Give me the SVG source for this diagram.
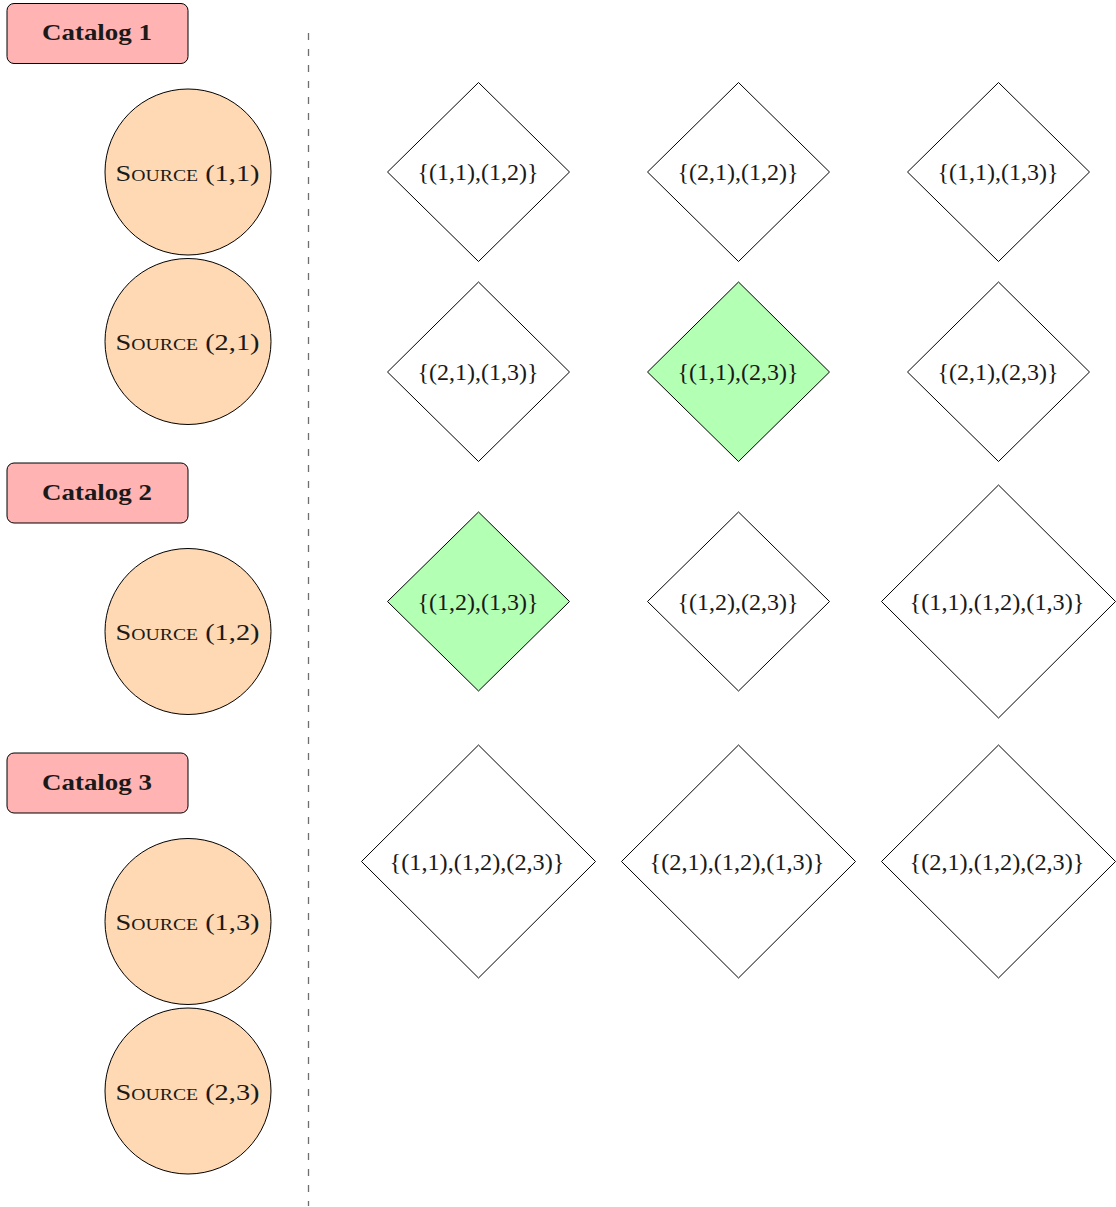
<svg xmlns="http://www.w3.org/2000/svg" width="1116" height="1207" viewBox="0 0 1116 1207">
  <style>
    text { font-family: "Liberation Serif", "Times New Roman", serif; font-size: 23px; fill: #1a1a1a; text-anchor: middle; }
    .catalog rect { fill: #ffb3b3; stroke: #000; stroke-width: 1; }
    .catalog text { font-weight: bold; }
    .source circle { fill: #ffd9b3; stroke: #000; stroke-width: 1; }
    .source text { font-variant: small-caps; }
    .set polygon { fill: #fff; stroke: #000; stroke-width: 1; }
    .set.hit polygon { fill: #b3ffb3; }
    .divider { stroke: #6e6e6e; stroke-width: 1.3; stroke-dasharray: 7 9; fill: none; }
  </style>

  <rect width="1116" height="1207" fill="#fff"/>

  <!-- separator between sources and candidate sets -->
  <g id="connectors">
    <line class="divider" x1="308.5" y1="33" x2="308.5" y2="1206"/>
  </g>

  <!-- catalogs -->
  <g id="catalog1" class="catalog">
    <rect x="7" y="3.5" width="181" height="60" rx="7"/>
    <text x="97" y="40" textLength="110" lengthAdjust="spacingAndGlyphs">Catalog 1</text>
  </g>
  <g id="catalog2" class="catalog">
    <rect x="7" y="463" width="181" height="60" rx="7"/>
    <text x="97" y="499.5" textLength="110" lengthAdjust="spacingAndGlyphs">Catalog 2</text>
  </g>
  <g id="catalog3" class="catalog">
    <rect x="7" y="753" width="181" height="60" rx="7"/>
    <text x="97" y="789.5" textLength="110" lengthAdjust="spacingAndGlyphs">Catalog 3</text>
  </g>

  <!-- sources -->
  <g id="source11" class="source">
    <circle cx="188" cy="172" r="83"/>
    <text x="187.5" y="180.5" textLength="144" lengthAdjust="spacingAndGlyphs">Source (1,1)</text>
  </g>
  <g id="source21" class="source">
    <circle cx="188" cy="341.5" r="83"/>
    <text x="187.5" y="350" textLength="144" lengthAdjust="spacingAndGlyphs">Source (2,1)</text>
  </g>
  <g id="source12" class="source">
    <circle cx="188" cy="631.5" r="83"/>
    <text x="187.5" y="640" textLength="144" lengthAdjust="spacingAndGlyphs">Source (1,2)</text>
  </g>
  <g id="source13" class="source">
    <circle cx="188" cy="921.5" r="83"/>
    <text x="187.5" y="930" textLength="144" lengthAdjust="spacingAndGlyphs">Source (1,3)</text>
  </g>
  <g id="source23" class="source">
    <circle cx="188" cy="1091" r="83"/>
    <text x="187.5" y="1099.5" textLength="144" lengthAdjust="spacingAndGlyphs">Source (2,3)</text>
  </g>

  <!-- candidate sets, row 1 -->
  <g id="set-11-12" class="set">
    <polygon points="478.5,82.5 569.5,172 478.5,261.5 387.5,172"/>
    <text x="478" y="180" textLength="121" lengthAdjust="spacingAndGlyphs">{(1,1),(1,2)}</text>
  </g>
  <g id="set-21-12" class="set">
    <polygon points="738.5,82.5 829.5,172 738.5,261.5 647.5,172"/>
    <text x="738" y="180" textLength="121" lengthAdjust="spacingAndGlyphs">{(2,1),(1,2)}</text>
  </g>
  <g id="set-11-13" class="set">
    <polygon points="998.5,82.5 1089.5,172 998.5,261.5 907.5,172"/>
    <text x="998" y="180" textLength="121" lengthAdjust="spacingAndGlyphs">{(1,1),(1,3)}</text>
  </g>

  <!-- row 2 -->
  <g id="set-21-13" class="set">
    <polygon points="478.5,282 569.5,372 478.5,461.5 387.5,372"/>
    <text x="478" y="380" textLength="121" lengthAdjust="spacingAndGlyphs">{(2,1),(1,3)}</text>
  </g>
  <g id="set-11-23" class="set hit">
    <polygon points="738.5,282 829.5,372 738.5,461.5 647.5,372"/>
    <text x="738" y="380" textLength="121" lengthAdjust="spacingAndGlyphs">{(1,1),(2,3)}</text>
  </g>
  <g id="set-21-23" class="set">
    <polygon points="998.5,282 1089.5,372 998.5,461.5 907.5,372"/>
    <text x="998" y="380" textLength="121" lengthAdjust="spacingAndGlyphs">{(2,1),(2,3)}</text>
  </g>

  <!-- row 3 -->
  <g id="set-12-13" class="set hit">
    <polygon points="478.5,512 569.5,601.5 478.5,691 387.5,601.5"/>
    <text x="478" y="609.5" textLength="121" lengthAdjust="spacingAndGlyphs">{(1,2),(1,3)}</text>
  </g>
  <g id="set-12-23" class="set">
    <polygon points="738.5,512 829.5,601.5 738.5,691 647.5,601.5"/>
    <text x="738" y="609.5" textLength="121" lengthAdjust="spacingAndGlyphs">{(1,2),(2,3)}</text>
  </g>
  <g id="set-11-12-13" class="set">
    <polygon points="998.5,485 1115.5,601.5 998.5,718 881.5,601.5"/>
    <text x="997" y="609.5" textLength="175" lengthAdjust="spacingAndGlyphs">{(1,1),(1,2),(1,3)}</text>
  </g>

  <!-- row 4 -->
  <g id="set-11-12-23" class="set">
    <polygon points="478.5,745 595.5,861.5 478.5,978 361.5,861.5"/>
    <text x="477" y="869.5" textLength="175" lengthAdjust="spacingAndGlyphs">{(1,1),(1,2),(2,3)}</text>
  </g>
  <g id="set-21-12-13" class="set">
    <polygon points="738.5,745 855.5,861.5 738.5,978 621.5,861.5"/>
    <text x="737" y="869.5" textLength="175" lengthAdjust="spacingAndGlyphs">{(2,1),(1,2),(1,3)}</text>
  </g>
  <g id="set-21-12-23" class="set">
    <polygon points="998.5,745 1115.5,861.5 998.5,978 881.5,861.5"/>
    <text x="997" y="869.5" textLength="175" lengthAdjust="spacingAndGlyphs">{(2,1),(1,2),(2,3)}</text>
  </g>
</svg>
